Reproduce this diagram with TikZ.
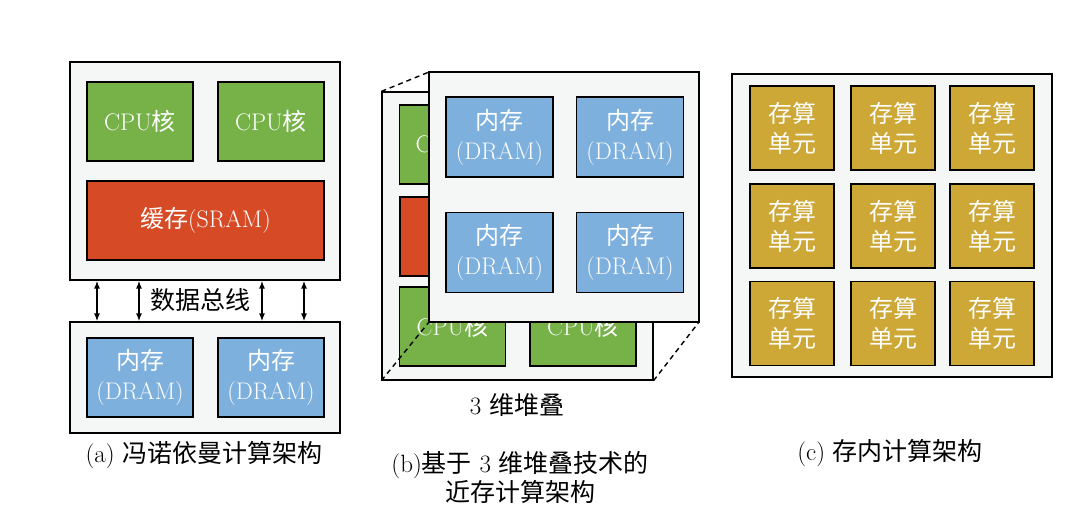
\documentclass[tikz,border=0pt]{standalone}
\usepackage{fontspec}
\newfontfamily\cjk{Noto Sans CJK SC}
\newcommand{\zh}[1]{{\cjk #1}}
\usetikzlibrary{arrows.meta}
\definecolor{corefill}{RGB}{118,178,72}
\definecolor{cachefill}{RGB}{214,74,38}
\definecolor{memfill}{RGB}{126,176,222}
\definecolor{pimfill}{RGB}{205,168,55}
\definecolor{chipfill}{RGB}{245,246,246}
\tikzset{
  chip/.style={draw=black, fill=chipfill, line width=1.2pt, inner sep=0pt},
  blk/.style={draw=black, line width=1.1pt, text=white, align=center, inner sep=0pt,
              font=\fontsize{24}{30}\selectfont},
  core/.style={blk, fill=corefill, minimum width=106pt, minimum height=79pt},
  cache/.style={blk, fill=cachefill, minimum width=237pt, minimum height=79pt},
  mem/.style={blk, fill=memfill, minimum width=106pt, minimum height=79pt},
  pim/.style={blk, fill=pimfill, minimum width=84pt, minimum height=84pt},
  bus/.style={black, line width=1.4pt, {Latex[length=8pt,width=6pt]}-{Latex[length=8pt,width=6pt]}},
  stack/.style={black, line width=1.4pt, dash pattern=on 5pt off 4pt},
  lbl/.style={align=center, font=\fontsize{25}{29}\selectfont},
}

\begin{document}
\begin{tikzpicture}[x=1pt, y=-1pt]
  \useasboundingbox (0,0) rectangle (1078,516);
  % (a) von Neumann
  \node[chip, minimum width=270pt, minimum height=218pt] (vtop) at (205,171) {};
  \node[core] (cpuA1) at (140,121.5) {CPU\zh{核}};
  \node[core] (cpuA2) at (271,121.5) {CPU\zh{核}};
  \node[cache] (sramA) at (205.5,220.5) {\zh{缓存}(SRAM)};
  \node[chip, minimum width=270pt, minimum height=111pt] (vmem) at (205,377.5) {};
  \node[mem] (memA1) at (140,377.5) {\zh{内存}\\(DRAM)};
  \node[mem] (memA2) at (271,377.5) {\zh{内存}\\(DRAM)};
  \foreach \bx in {97,139,262,304}
    \draw[bus] (vtop.south -| \bx,0) -- (vmem.north -| \bx,0);
  \node[lbl] (busA) at (200,300) {\zh{数据总线}};
  \node[lbl] (capA) at (204,455) {(a) \zh{冯诺依曼计算架构}};

  % (b) 3D stacked near-memory
  \node[chip, minimum width=271pt, minimum height=288pt] (back) at (517.5,236) {};
  \node[core] (cpuB1) at (452.5,144.5) {};
  \node[core] (cpuB2) at (583,144.5) {};
  \node[cache, minimum width=236pt] (sramB) at (518,236.5) {};
  \node[core] (cpuB3) at (452.5,326.5) {CPU\zh{核}};
  \node[core] (cpuB4) at (583,326.5) {CPU\zh{核}};
  \node[blk, draw=none, anchor=west] (cpuB1txt) at (415,144.5) {C};
  \coordinate (fnw) at (429,72);
  \coordinate (fsw) at (429,322);
  \coordinate (fse) at (699,322);
  \draw[stack] (back.north west) -- (fnw);
  \draw[stack] (back.south west) -- (fsw);
  \draw[stack] (back.south east) -- (fse);
  \node[chip, minimum width=270pt, minimum height=250pt] (front) at (564,197) {};
  \node[mem, minimum width=107pt, minimum height=80pt] (memB1) at (499.5,137) {\zh{内存}\\(DRAM)};
  \node[mem, minimum width=107pt, minimum height=80pt] (memB2) at (630,137) {\zh{内存}\\(DRAM)};
  \node[mem, minimum width=107pt, minimum height=80pt] (memB3) at (499.5,252.5) {\zh{内存}\\(DRAM)};
  \node[mem, minimum width=107pt, minimum height=80pt] (memB4) at (630,252.5) {\zh{内存}\\(DRAM)};
  \node[lbl] (stk) at (517,405) {3 \zh{维堆叠}};
  \node[lbl] (capB) at (520,477) {(b)\zh{基于} 3 \zh{维堆叠技术的}\\\zh{近存计算架构}};

  % (c) processing in memory
  \node[chip, minimum width=320pt, minimum height=303pt] (pimchip) at (892,225.5) {};
  \foreach \cx/\i in {792/1,893/2,992/3}
    \foreach \cy/\j in {128/1,226/2,323.5/3}
      \node[pim] (pu\i\j) at (\cx,\cy) {\zh{存算}\\\zh{单元}};
  \node[lbl] (capC) at (890,453) {(c) \zh{存内计算架构}};
\end{tikzpicture}
\end{document}
